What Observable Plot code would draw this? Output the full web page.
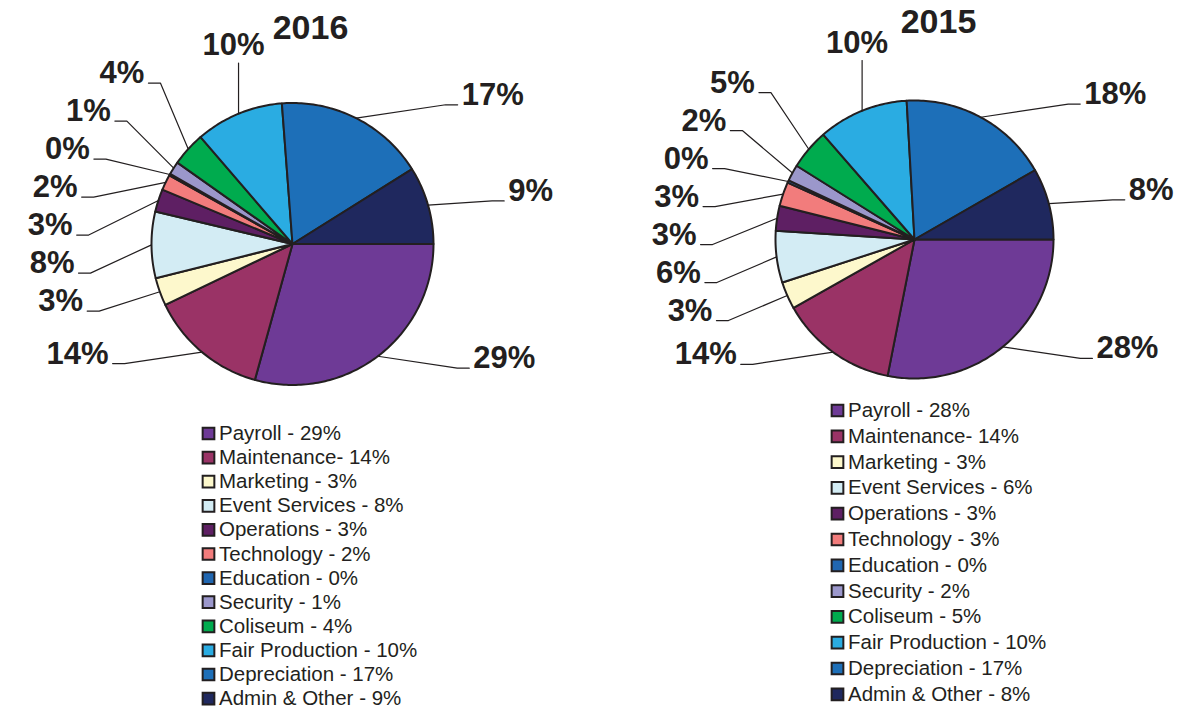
<!DOCTYPE html>
<html><head><meta charset="utf-8">
<script src="https://cdn.jsdelivr.net/npm/d3@7"></script>
<script src="https://cdn.jsdelivr.net/npm/@observablehq/plot@0.6"></script>
<style>body{margin:0;background:#fff} svg{display:block}</style>
</head><body><div id="chart"></div>
<script>
// ---- data ----
const categories = ["Payroll","Maintenance","Marketing","Event Services","Operations","Technology","Education","Security","Coliseum","Fair Production","Depreciation","Admin & Other"];
const colors = ["#6e3a96","#9a3366","#fdf8cc","#d3ecf4","#5e1f63","#f27c7c","#2066b0","#9b97cb","#00ab4e","#2aace2","#1d6fb8","#1f285e"];
const years = ["2016","2015"];
const values2016 = [29.3,13.6,3.2,7.6,2.6,1.8,0.2,1.5,3.9,10.1,17.3,8.9];
const values2015 = [28.1,13.7,3.2,6.0,2.9,2.8,0.3,1.9,4.7,10.5,17.6,8.3];
const pieLabels2016 = ["29%","14%","3%","8%","3%","2%","0%","1%","4%","10%","17%","9%"];
const pieLabels2015 = ["28%","14%","3%","6%","3%","3%","0%","2%","5%","10%","18%","8%"];
const legend2016 = ["Payroll - 29%","Maintenance- 14%","Marketing - 3%","Event Services - 8%","Operations - 3%","Technology - 2%","Education - 0%","Security - 1%","Coliseum - 4%","Fair Production - 10%","Depreciation - 17%","Admin & Other - 9%"];
const legend2015 = ["Payroll - 28%","Maintenance- 14%","Marketing - 3%","Event Services - 6%","Operations - 3%","Technology - 3%","Education - 0%","Security - 2%","Coliseum - 5%","Fair Production - 10%","Depreciation - 17%","Admin & Other - 8%"];

// ---- layout ----
const W = 1195, H = 711;
const INK = "#231f20";
const FONT = "'Liberation Sans', Arial, Helvetica, sans-serif";
const pies = [
  {year: years[0], values: values2016, labels: pieLabels2016, legend: legend2016, cx: 292, cy: 243.5, r: 141, titleDx: 18, titleY: 38, legX: 208, legY: 433, legStep: 24.1},
  {year: years[1], values: values2015, labels: pieLabels2015, legend: legend2015, cx: 914, cy: 239, r: 139, titleDx: 24, titleY: 32, legX: 837, legY: 410, legStep: 25.8}
];

function relax(items, gap) {
  items.sort((a, b) => a.y0 - b.y0);
  let clusters = items.map(it => ({items: [it], mean: it.y0}));
  let merged = true;
  while (merged) {
    merged = false;
    for (let i = 0; i < clusters.length - 1; i++) {
      const a = clusters[i], b = clusters[i + 1];
      const aBot = a.mean + (a.items.length - 1) * gap / 2;
      const bTop = b.mean - (b.items.length - 1) * gap / 2;
      if (bTop - aBot < gap) {
        const its = a.items.concat(b.items);
        clusters.splice(i, 2, {items: its, mean: d3.mean(its, d => d.y0)});
        merged = true; break;
      }
    }
  }
  for (const c of clusters) {
    const n = c.items.length;
    c.items.forEach((it, k) => it.y = c.mean - (n - 1) * gap / 2 + k * gap);
  }
}

const slicePts = [], leaderPts = [], labelRows = [], legendRows = [], titleRows = [];
for (const p of pies) {
  const arcs = d3.pie().sort(null).startAngle(Math.PI / 2).endAngle(Math.PI / 2 + 2 * Math.PI)(p.values);
  arcs.forEach((a, i) => {
    const key = p.year + "-" + i;
    const n = Math.max(2, Math.ceil((a.endAngle - a.startAngle) / (Math.PI / 180)));
    slicePts.push({key, x: p.cx, y: p.cy, fill: colors[i]});
    for (let k = 0; k <= n; k++) {
      const t = a.startAngle + (a.endAngle - a.startAngle) * k / n;
      slicePts.push({key, x: p.cx + p.r * Math.sin(t), y: p.cy - p.r * Math.cos(t), fill: colors[i]});
    }
    slicePts.push({key, x: p.cx, y: p.cy, fill: colors[i]});
  });
  const items = arcs.map((a, i) => {
    const m = (a.startAngle + a.endAngle) / 2;
    const s = Math.sin(m), c = -Math.cos(m);
    return {i, ex: p.cx + p.r * s, ey: p.cy + p.r * c, side: s >= 0 ? 1 : -1, top: c < -0.91, y0: p.cy + (p.r + 15) * c};
  });
  const R2 = p.r + 75;
  for (const side of [1, -1]) relax(items.filter(d => !d.top && d.side === side), 38);
  for (const it of items) {
    const key = p.year + "-L" + it.i;
    if (it.top) {
      const yTop = p.cy - p.r - 40;
      leaderPts.push({key, x: it.ex, y: it.ey}, {key, x: it.ex, y: yTop});
      labelRows.push({x: it.ex - 5, y: yTop - 8, text: p.labels[it.i], anchor: "middle"});
    } else {
      const dy = it.y - p.cy;
      const dx = Math.sqrt(Math.max(R2 * R2 - dy * dy, 1600));
      const ax = p.cx + it.side * dx;
      const elbow = ax - it.side * 12;
      leaderPts.push({key, x: it.ex, y: it.ey}, {key, x: elbow, y: it.y}, {key, x: ax, y: it.y});
      labelRows.push({x: ax + it.side * 4, y: it.y, text: p.labels[it.i], anchor: it.side > 0 ? "start" : "end"});
    }
  }
  titleRows.push({x: p.cx + p.titleDx, y: p.titleY, text: p.year});
  p.legend.forEach((t, i) => legendRows.push({x: p.legX, y: p.legY + i * p.legStep, text: t, fill: colors[i]}));
}

const labelMark = anchor => Plot.text(labelRows.filter(d => d.anchor === anchor), {
  x: "x", y: "y", text: "text", textAnchor: anchor, lineAnchor: "bottom",
  fontSize: 31, fontWeight: "bold", fill: INK
});

const chart = Plot.plot({
  width: W, height: H, margin: 0,
  x: {domain: [0, W], range: [0, W], axis: null},
  y: {domain: [0, H], range: [0, H], axis: null},
  color: {type: "identity"},
  style: {fontFamily: FONT, background: "#fff", overflow: "visible"},
  marks: [
    Plot.line(slicePts, {x: "x", y: "y", z: "key", fill: "fill", stroke: INK, strokeWidth: 2, strokeLinejoin: "round"}),
    Plot.line(leaderPts, {x: "x", y: "y", z: "key", stroke: INK, strokeWidth: 1.2}),
    labelMark("start"), labelMark("end"), labelMark("middle"),
    Plot.text(titleRows, {x: "x", y: "y", text: "text", lineAnchor: "bottom", fontSize: 34, fontWeight: "bold", fill: INK}),
    Plot.dot(legendRows, {x: "x", y: "y", symbol: "square", r: 6.6, fill: "fill", stroke: INK, strokeWidth: 2}),
    Plot.text(legendRows, {x: d => d.x + 10.5, y: "y", text: "text", textAnchor: "start", lineAnchor: "middle", fontSize: 20.5, fill: INK})
  ]
});
document.getElementById("chart").appendChild(chart);
</script>
</body></html>
